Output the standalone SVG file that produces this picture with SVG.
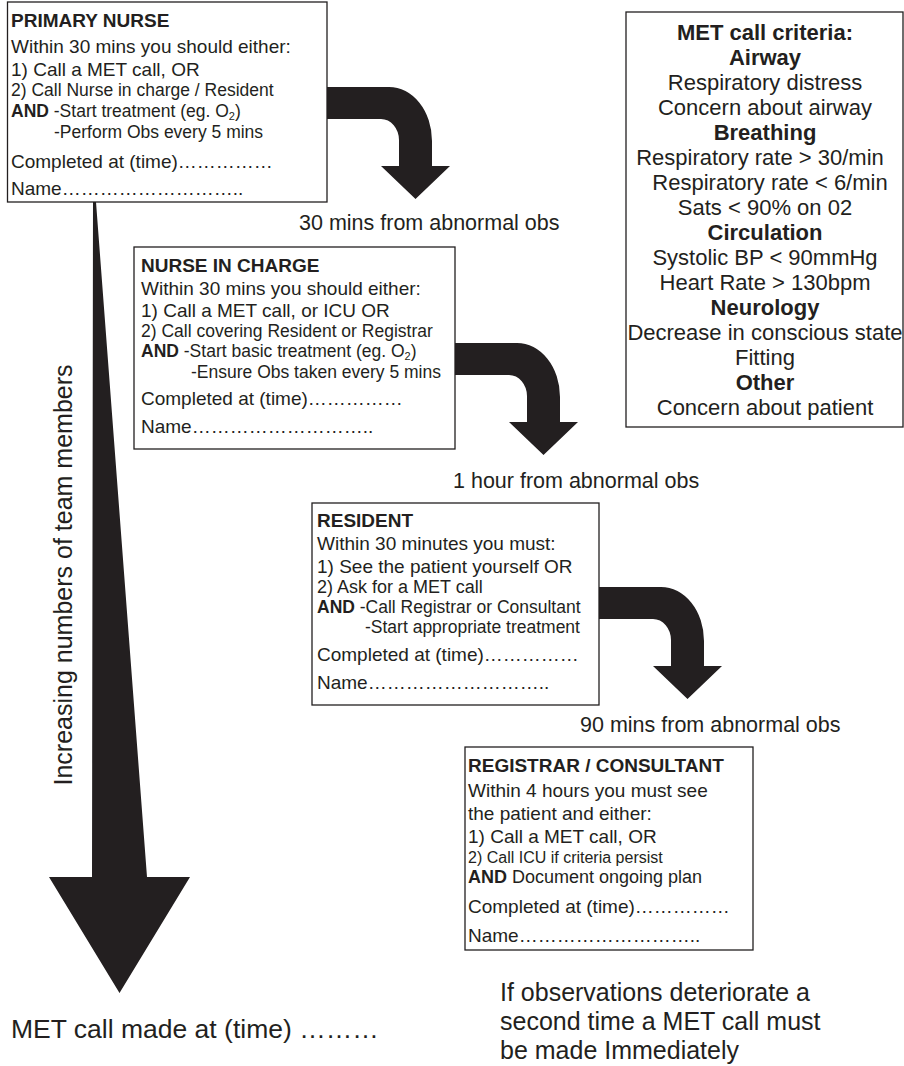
<svg xmlns="http://www.w3.org/2000/svg" xmlns:xlink="http://www.w3.org/1999/xlink" width="904" height="1066" viewBox="0 0 904 1066">
<style>
text{font-family:"Liberation Sans",Arial,Helvetica,sans-serif;fill:#231f20}
.r{font-size:19px}
.b{font-size:19px;font-weight:bold}
.s{font-size:17.5px}
.m{font-size:22px;text-anchor:middle}
.mb{font-size:22px;font-weight:bold;text-anchor:middle}
.lbl{font-size:21.5px}
.big{font-size:26.5px}
.foot{font-size:25px}
.sub{font-size:11px}
.box{fill:#fff;stroke:#231f20;stroke-width:1.3}
.ar{fill:#231f20}
</style>
<defs>
<path id="bend" d="M-1,0 H62 A43,54 0 0 1 105,54 V79 H123 L88.5,112 L54,79 H72 V53 A18,21 0 0 0 54,32 H-1 Z"/>
</defs>
<rect width="904" height="1066" fill="#fff"/>
<g id="connectors" class="ar">
<polygon points="93,202 96,202 147,877 190,877 119.5,993 49,877 92,877"/>
<use xlink:href="#bend" href="#bend" transform="translate(327,87)"/>
<use xlink:href="#bend" href="#bend" transform="translate(455,343)"/>
<use xlink:href="#bend" href="#bend" transform="translate(599,587)"/>
</g>
<g id="primary-nurse">
<rect class="box" x="7.5" y="2" width="319.5" height="200"/>
<text class="b" x="11" y="27">PRIMARY NURSE</text>
<text class="r" x="11" y="53">Within 30 mins you should either:</text>
<text class="r" x="11" y="76">1) Call a MET call, OR</text>
<text class="s" x="11" y="96">2) Call Nurse in charge / Resident</text>
<text class="s" x="11" y="117"><tspan font-weight="bold">AND</tspan> -Start treatment (eg. O<tspan class="sub" dy="3">2</tspan><tspan dy="-3">)</tspan></text>
<text class="s" x="54" y="138">-Perform Obs every 5 mins</text>
<text class="r" x="11" y="168">Completed at (time)……………</text>
<text class="r" x="11" y="195">Name………………………..</text>
</g>
<g id="nurse-in-charge">
<rect class="box" x="134" y="247" width="321" height="202"/>
<text class="b" x="141" y="272">NURSE IN CHARGE</text>
<text class="r" x="141" y="295">Within 30 mins you should either:</text>
<text class="r" x="141" y="317">1) Call a MET call, or ICU OR</text>
<text class="s" x="141" y="337">2) Call covering Resident or Registrar</text>
<text class="s" x="141" y="357"><tspan font-weight="bold">AND</tspan> -Start basic treatment (eg. O<tspan class="sub" dy="3">2</tspan><tspan dy="-3">)</tspan></text>
<text class="s" x="191" y="378">-Ensure Obs taken every 5 mins</text>
<text class="r" x="141" y="405">Completed at (time)……………</text>
<text class="r" x="141" y="433">Name………………………..</text>
</g>
<g id="resident">
<rect class="box" x="312" y="503" width="287" height="202"/>
<text class="b" x="317" y="527">RESIDENT</text>
<text class="r" x="317" y="550">Within 30 minutes you must:</text>
<text class="r" x="317" y="573">1) See the patient yourself OR</text>
<text x="317" y="593" font-size="18">2) Ask for a MET call</text>
<text class="s" x="317" y="613"><tspan font-weight="bold">AND</tspan> -Call Registrar or Consultant</text>
<text class="s" x="365" y="633">-Start appropriate treatment</text>
<text class="r" x="317" y="661">Completed at (time)……………</text>
<text class="r" x="317" y="689">Name………………………..</text>
</g>
<g id="registrar">
<rect class="box" x="465" y="747" width="288" height="203"/>
<text class="b" x="468" y="772">REGISTRAR / CONSULTANT</text>
<text class="r" x="468" y="797">Within 4 hours you must see</text>
<text class="r" x="468" y="820">the patient and either:</text>
<text class="r" x="468" y="843">1) Call a MET call, OR</text>
<text x="468" y="863" font-size="16">2) Call ICU if criteria persist</text>
<text x="468" y="883" font-size="18"><tspan font-weight="bold">AND</tspan> Document ongoing plan</text>
<text class="r" x="468" y="913">Completed at (time)……………</text>
<text class="r" x="468" y="942">Name………………………..</text>
</g>
<g id="met-criteria">
<rect class="box" x="626" y="12" width="277" height="415"/>
<text class="mb" x="765" y="39.5">MET call criteria:</text>
<text class="mb" x="765" y="64.5">Airway</text>
<text class="m" x="765" y="89.6">Respiratory distress</text>
<text class="m" x="765" y="114.6">Concern about airway</text>
<text class="mb" x="765" y="139.7">Breathing</text>
<text class="m" x="760" y="164.7">Respiratory rate &gt; 30/min</text>
<text class="m" x="770" y="189.8">Respiratory rate &lt; 6/min</text>
<text class="m" x="765" y="214.8">Sats &lt; 90% on 02</text>
<text class="mb" x="765" y="239.9">Circulation</text>
<text class="m" x="765" y="264.9">Systolic BP &lt; 90mmHg</text>
<text class="m" x="765" y="290">Heart Rate &gt; 130bpm</text>
<text class="mb" x="765" y="315">Neurology</text>
<text class="m" x="765" y="340">Decrease in conscious state</text>
<text class="m" x="765" y="365">Fitting</text>
<text class="mb" x="765" y="390">Other</text>
<text class="m" x="765" y="415">Concern about patient</text>
</g>
<g id="labels">
<text class="lbl" x="299" y="230">30 mins from abnormal obs</text>
<text class="lbl" x="453" y="488">1 hour from abnormal obs</text>
<text class="lbl" x="580" y="732">90 mins from abnormal obs</text>
<text class="foot" transform="translate(72,575) rotate(-90)" text-anchor="middle">Increasing numbers of team members</text>
<text class="big" x="11" y="1038">MET call made at (time) ………</text>
<text class="foot" x="500" y="1001">If observations deteriorate a</text>
<text class="foot" x="500" y="1030">second time a MET call must</text>
<text class="foot" x="500" y="1059">be made Immediately</text>
</g>
</svg>
